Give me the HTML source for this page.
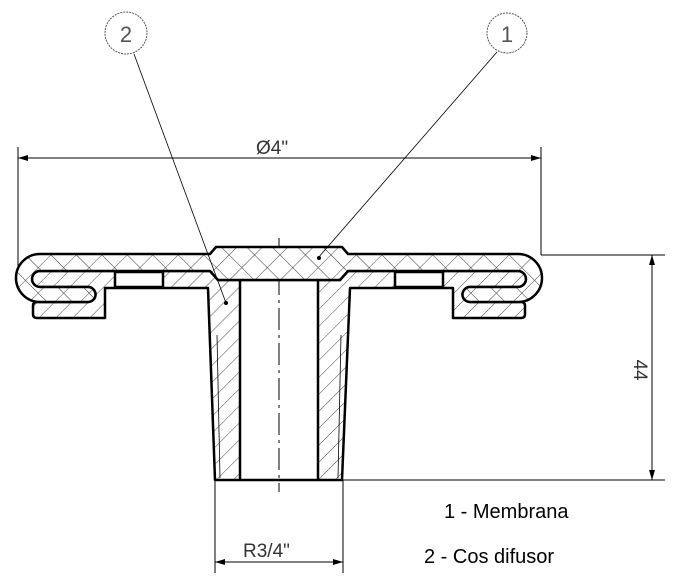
<!DOCTYPE html>
<html><head><meta charset="utf-8"><style>
html,body{margin:0;padding:0;background:#fff;}
svg{display:block;}
</style></head><body>
<svg width="677" height="583" viewBox="0 0 677 583" xmlns="http://www.w3.org/2000/svg">
<defs>
<pattern id="h1" patternUnits="userSpaceOnUse" width="12" height="12" patternTransform="rotate(45)">
<rect width="12" height="12" fill="#fff"/><line x1="0" y1="0" x2="0" y2="12" stroke="#333" stroke-width="0.9"/>
</pattern>
<pattern id="h2" patternUnits="userSpaceOnUse" width="18" height="18" patternTransform="rotate(45)">
<rect width="18" height="18" fill="#fff"/><line x1="0" y1="0" x2="0" y2="18" stroke="#333" stroke-width="0.9"/><line x1="0" y1="0" x2="18" y2="0" stroke="#333" stroke-width="0.9"/>
</pattern>
<marker id="ar" viewBox="0 0 10 6" refX="10" refY="3" markerWidth="10" markerHeight="6" orient="auto-start-reverse" markerUnits="userSpaceOnUse">
<path d="M0,0 L10,3 L0,6 Z" fill="#000"/></marker>
</defs>

<line x1="279" y1="238" x2="279" y2="492" stroke="#000" stroke-width="1" stroke-dasharray="22,5,3,5"/>

<path fill="url(#h1)" fill-rule="evenodd" stroke="#000" stroke-width="2.5" stroke-linejoin="round" d="
M40,271 H210 L218,280 H340 L348,271 H518 A8,8 0 0 1 518,287 H470 A7.5,7.5 0 0 0 470,302 H521 Q525,302 525,306 V314 Q525,318 521,318 H453 V288 H350 L342,480 H215 L208,288 H105 V318 H37 Q33,318 33,314 V306 Q33,302 37,302 H88 A7.5,7.5 0 0 0 88,287 H40 A8,8 0 0 1 40,271 Z
M240,280 H318 V480 H240 Z
M115,272 H163 V287 H115 Z
M395,272 H443 V287 H395 Z"/>
<line x1="217" y1="335" x2="220" y2="478" stroke="#000" stroke-width="0.8"/>
<line x1="341" y1="335" x2="338" y2="478" stroke="#000" stroke-width="0.8"/>

<path fill="url(#h2)" stroke="#000" stroke-width="2.5" stroke-linejoin="round" d="
M40,254 H210 L216,247 H342 L348,254 H518 A24,24 0 0 1 518,302 H470 A7.5,7.5 0 0 1 470,287 H518 A8,8 0 0 0 518,271 H348 L340,280 H218 L210,271 H40 A8,8 0 0 0 40,287 H88 A7.5,7.5 0 0 1 88,302 H40 A24,24 0 0 1 40,254 Z"/>

<circle cx="126" cy="33" r="21" fill="none" stroke="#555" stroke-width="1" stroke-dasharray="2,1"/>
<text x="126" y="42" font-family="Liberation Sans, sans-serif" font-size="22" fill="#555" text-anchor="middle">2</text>
<circle cx="507" cy="33" r="20" fill="none" stroke="#555" stroke-width="1" stroke-dasharray="2,1"/>
<text x="507" y="42" font-family="Liberation Sans, sans-serif" font-size="22" fill="#555" text-anchor="middle">1</text>
<line x1="134" y1="54" x2="226" y2="303" stroke="#000" stroke-width="0.8"/>
<circle cx="226" cy="303" r="2" fill="#000"/>
<line x1="497" y1="52" x2="318" y2="258" stroke="#000" stroke-width="0.8"/>
<circle cx="319" cy="258" r="2" fill="#000"/>

<line x1="18" y1="147" x2="18" y2="268" stroke="#000" stroke-width="1"/>
<line x1="541" y1="147" x2="541" y2="255" stroke="#000" stroke-width="1"/>
<line x1="18" y1="158" x2="541" y2="158" stroke="#000" stroke-width="1" marker-start="url(#ar)" marker-end="url(#ar)"/>
<text x="256" y="154" font-family="Liberation Sans, sans-serif" font-size="19" fill="#333">Ø4"</text>

<line x1="541" y1="255" x2="665" y2="255" stroke="#000" stroke-width="1"/>
<line x1="343" y1="480" x2="665" y2="480" stroke="#000" stroke-width="1"/>
<line x1="652" y1="255" x2="652" y2="480" stroke="#000" stroke-width="1" marker-start="url(#ar)" marker-end="url(#ar)"/>
<text transform="translate(634,370) rotate(90)" font-family="Liberation Sans, sans-serif" font-size="19" fill="#333" text-anchor="middle">44</text>

<line x1="215" y1="480" x2="215" y2="573" stroke="#000" stroke-width="1"/>
<line x1="343" y1="480" x2="343" y2="573" stroke="#000" stroke-width="1"/>
<line x1="215" y1="562" x2="343" y2="562" stroke="#000" stroke-width="1" marker-start="url(#ar)" marker-end="url(#ar)"/>
<text x="243" y="557" font-family="Liberation Sans, sans-serif" font-size="19" fill="#333">R3/4"</text>

<text x="444" y="518" font-family="Liberation Sans, sans-serif" font-size="20" fill="#000">1 - Membrana</text>
<text x="424" y="563" font-family="Liberation Sans, sans-serif" font-size="20" fill="#000">2 - Cos difusor</text>
</svg>
</body></html>
